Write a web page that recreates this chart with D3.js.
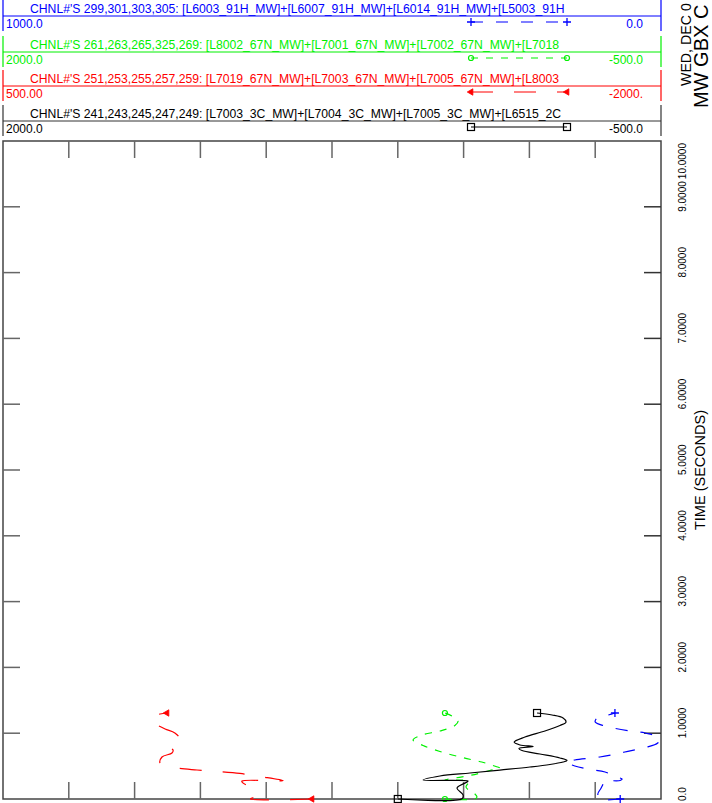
<!DOCTYPE html>
<html>
<head>
<meta charset="utf-8">
<script src="https://cdn.jsdelivr.net/npm/d3@7"></script>
<style>
  html, body { margin: 0; padding: 0; background: #fff; overflow: hidden; }
  svg { display: block; font-family: "Liberation Sans", Arial, sans-serif; }
</style>
</head>
<body>
<svg id="chart" width="712" height="803"></svg>
<script>
// ---------------- DATA ----------------
const timeTicks = [0,1,2,3,4,5,6,7,8,9,10];
const timeTickLabels = ["0.0","1.0000","2.0000","3.0000","4.0000","5.0000","6.0000","7.0000","8.0000","9.0000","10.0000"];

const channelNames = [
  "CHNL#'S 299,301,303,305: [L6003_91H_MW]+[L6007_91H_MW]+[L6014_91H_MW]+[L5003_91H",
  "CHNL#'S 261,263,265,325,269: [L8002_67N_MW]+[L7001_67N_MW]+[L7002_67N_MW]+[L7018",
  "CHNL#'S 251,253,255,257,259: [L7019_67N_MW]+[L7003_67N_MW]+[L7005_67N_MW]+[L8003",
  "CHNL#'S 241,243,245,247,249: [L7003_3C_MW]+[L7004_3C_MW]+[L7005_3C_MW]+[L6515_2C"
];
const scaleLeft = [1000, 2000, 500, 2000];
const scaleRight = [0, -500, -2000, -500];
const scaleLeftLabels = ["1000.0", "2000.0", "500.00", "2000.0"];
const scaleRightLabels = ["0.0", "-500.0", "-2000.", "-500.0"];

const headerDate = "WED, DEC 0";
const headerTitle = "MW GBX C";

const blueTime = [0, 0.002, 0.076, 0.167, 0.258, 0.274, 0.281, 0.304, 0.334, 0.41, 0.448, 0.502, 0.555, 0.593, 0.638, 0.714, 0.783, 0.851, 0.927, 1.003, 1.033, 1.109, 1.170, 1.231, 1.277, 1.307];
const blueMW   = [62, 93, 96, 91, 87, 87, 62, 59, 67, 85, 108, 131, 143, 131, 93, 55, 24, 5, 2, 24, 47, 85, 100, 97, 80, 70];

const greenTime = [0, 0.002, 0.03, 0.076, 0.122, 0.182, 0.243, 0.274, 0.289, 0.357, 0.433, 0.471, 0.494, 0.562, 0.631, 0.722, 0.813, 0.897, 0.973, 1.033, 1.117, 1.185, 1.261, 1.307];
const greenMW   = [321, 207, 199, 207, 226, 241, 233, 233, 321, 226, 150, 112, 127, 181, 256, 340, 404, 442, 408, 340, 283, 271, 294, 321];

const redTime = [0, 0.002, 0.046, 0.137, 0.198, 0.258, 0.274, 0.280, 0.342, 0.388, 0.418, 0.441, 0.471, 0.540, 0.638, 0.699, 0.745, 0.790, 0.851, 0.927, 1.003, 1.064, 1.125, 1.185, 1.246, 1.292, 1.307];
const redMW   = [-674, -440, -465, -457, -431, -408, -408, -564, -476, -400, -317, -237, -161, -97, -104, -142, -146, -127, -146, -169, -153, -116, -85, -62, -70, -97, -123];

const blackTime = [0, 0.003, 0.061, 0.167, 0.258, 0.274, 0.289, 0.350, 0.395, 0.44, 0.486, 0.524, 0.562, 0.585, 0.623, 0.684, 0.737, 0.767, 0.798, 0.821, 0.866, 0.942, 1.033, 1.117, 1.170, 1.231, 1.277, 1.307];
const blackMW   = [500, 256, 252, 275, 237, 233, 404, 340, 226, 112, -2, -78, -128, -143, -116, -40, 28, 40, -14, 36, 58, 17, -59, -116, -139, -128, -86, -29];

// ---------------- LAYOUT ----------------
const L = 3, R = 661, T = 141, B = 799;
const svg = d3.select("#chart");

const yT = d3.scaleLinear().domain([0, 10]).range([B, T]);
const xDiv = d3.scaleLinear().domain([0, 10]).range([L, R]);

const colors = ["#0000ff", "#00f000", "#ff0000", "#000000"];
const dashes = ["12,13", "7,8", "22,21", null];
const markers = ["plus", "circle", "triangle", "square"];
const panelLineY = [16, 52, 86, 121];

const xScales = scaleLeft.map((l, i) => d3.scaleLinear().domain([l, scaleRight[i]]).range([L, R]));

function drawMarker(g, type, x, y, color) {
  if (type === "plus") {
    g.append("path").attr("d", `M${x-4},${y}H${x+4}M${x},${y-4}V${y+4}`)
      .attr("stroke", color).attr("stroke-width", 1.3).attr("fill", "none");
  } else if (type === "circle") {
    g.append("circle").attr("cx", x).attr("cy", y).attr("r", 2.5)
      .attr("stroke", color).attr("stroke-width", 1.2).attr("fill", "none");
  } else if (type === "triangle") {
    g.append("path").attr("d", d3.symbol().type(d3.symbolTriangle).size(18)())
      .attr("transform", `translate(${x},${y}) rotate(-90)`)
      .attr("fill", color).attr("stroke", color).attr("stroke-width", 0.8);
  } else if (type === "square") {
    g.append("rect").attr("x", x-3.5).attr("y", y-3.5).attr("width", 7).attr("height", 7)
      .attr("stroke", color).attr("stroke-width", 1.2).attr("fill", "none");
  }
}

// ---------------- LEGEND PANELS ----------------
channelNames.forEach((name, i) => {
  const g = svg.append("g");
  const ly = panelLineY[i];
  const c = colors[i];
  const frameC = i === 3 ? "#333" : c;
  g.append("line").attr("x1", L).attr("x2", L).attr("y1", ly - 16).attr("y2", ly + 15)
    .attr("stroke", frameC).attr("stroke-width", 1.2);
  g.append("line").attr("x1", R).attr("x2", R).attr("y1", ly - 16).attr("y2", ly + 15)
    .attr("stroke", frameC).attr("stroke-width", 1.2);
  g.append("line").attr("x1", L).attr("x2", R).attr("y1", ly).attr("y2", ly)
    .attr("stroke", frameC).attr("stroke-width", 1);
  g.append("text").attr("x", 30).attr("y", ly - 3).attr("fill", c)
    .attr("font-size", 12.2).text(name);
  g.append("text").attr("x", 6).attr("y", ly + 12).attr("fill", c)
    .attr("font-size", 12).text(scaleLeftLabels[i]);
  g.append("text").attr("x", 643).attr("y", ly + 12).attr("fill", c)
    .attr("text-anchor", "end").attr("font-size", 12).text(scaleRightLabels[i]);
  const sy = ly + 6;
  const s = g.append("line").attr("x1", 471).attr("x2", 567).attr("y1", sy).attr("y2", sy)
    .attr("stroke", c).attr("stroke-width", 1.2);
  if (dashes[i]) s.attr("stroke-dasharray", dashes[i]);
  drawMarker(g, markers[i], 471, sy, c);
  drawMarker(g, markers[i], 567, sy, c);
});

// ---------------- PLOT FRAME & TICKS ----------------
const frame = svg.append("g");
frame.append("rect").attr("x", L).attr("y", T).attr("width", R - L).attr("height", B - T)
  .attr("fill", "none").attr("stroke", "#444").attr("stroke-width", 1.5);

const inner = d3.range(1, 10);
const tickLen = 17;
frame.selectAll(".tt").data(inner).join("line")
  .attr("x1", d => xDiv(d)).attr("x2", d => xDiv(d)).attr("y1", T).attr("y2", T + tickLen)
  .attr("stroke", "#666").attr("stroke-width", 1.5);
frame.selectAll(".tb").data(inner).join("line")
  .attr("x1", d => xDiv(d)).attr("x2", d => xDiv(d)).attr("y1", B).attr("y2", B - tickLen)
  .attr("stroke", "#666").attr("stroke-width", 1.5);
frame.selectAll(".tl").data(inner).join("line")
  .attr("x1", L).attr("x2", L + tickLen).attr("y1", d => yT(d)).attr("y2", d => yT(d))
  .attr("stroke", "#666").attr("stroke-width", 1.5);
frame.selectAll(".tr").data(inner).join("line")
  .attr("x1", R).attr("x2", R - tickLen).attr("y1", d => yT(d)).attr("y2", d => yT(d))
  .attr("stroke", "#333").attr("stroke-width", 1.5);

// time tick labels (rotated)
timeTicks.forEach((t, i) => {
  const isTop = t === 10;
  const yy = isTop ? T + 2 : Math.min(yT(t) + 5, 801);
  svg.append("text")
    .attr("transform", `translate(686,${yy}) rotate(-90)`)
    .attr("text-anchor", isTop ? "end" : "start")
    .attr("font-size", 10).attr("fill", "#000")
    .text(timeTickLabels[i]);
});

svg.append("text")
  .attr("transform", `translate(705,${(T + B) / 2}) rotate(-90)`)
  .attr("text-anchor", "middle").attr("font-size", 14.5).attr("fill", "#000")
  .text("TIME (SECONDS)");

// header texts (rotated)
svg.append("text")
  .attr("transform", `translate(691,86) rotate(-90)`)
  .attr("font-size", 14.2).attr("fill", "#000")
  .text(headerDate);
svg.append("text")
  .attr("transform", `translate(708,108) rotate(-90)`)
  .attr("font-size", 20).attr("fill", "#000")
  .text(headerTitle);

// ---------------- CURVES ----------------
const series = [
  { t: blueTime, v: blueMW },
  { t: greenTime, v: greenMW },
  { t: redTime, v: redMW },
  { t: blackTime, v: blackMW }
];
const curves = svg.append("g");
series.forEach((s, i) => {
  const pts = s.t.map((t, k) => [xScales[i](s.v[k]), yT(t)]);
  const line = d3.line().curve(d3.curveCatmullRom.alpha(0.5));
  const p = curves.append("path").attr("d", line(pts))
    .attr("fill", "none").attr("stroke", colors[i]).attr("stroke-width", 1.2);
  if (dashes[i]) p.attr("stroke-dasharray", dashes[i]);
  drawMarker(curves, markers[i], pts[0][0], pts[0][1], colors[i]);
  drawMarker(curves, markers[i], pts[pts.length - 1][0], pts[pts.length - 1][1], colors[i]);
});
</script>
</body>
</html>
